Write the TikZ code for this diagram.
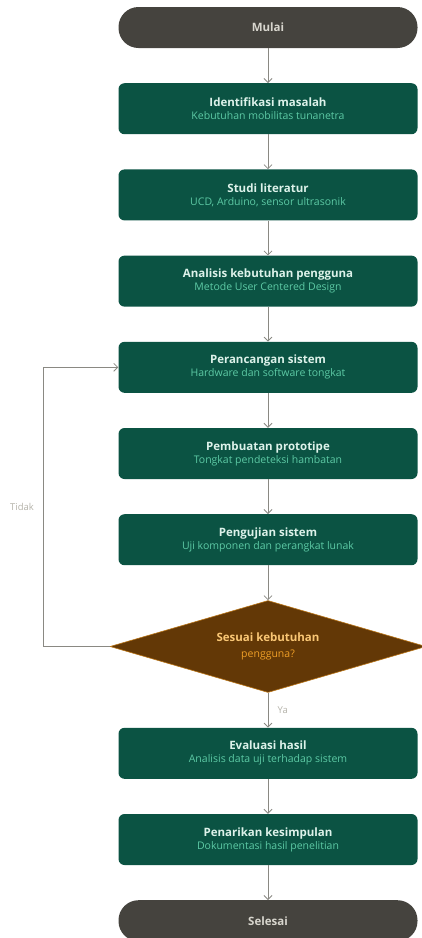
\documentclass[tikz,border=0pt]{standalone}
\usepackage{fontspec}
\setmainfont{Open Sans}
\usetikzlibrary{positioning, shapes.geometric, arrows.meta}

\definecolor{termfill}{HTML}{45433E}
\definecolor{termtext}{HTML}{D8D6CE}
\definecolor{procfill}{HTML}{0B5343}
\definecolor{proctext}{HTML}{DDF2EA}
\definecolor{subtext}{HTML}{5DCAA5}
\definecolor{decfill}{HTML}{633806}
\definecolor{decline}{HTML}{BA7517}
\definecolor{dectext}{HTML}{FAC775}
\definecolor{decsub}{HTML}{EF9F27}
\definecolor{linegray}{HTML}{8A8983}
\definecolor{lblgray}{HTML}{B4B2A9}

\begin{document}
\begin{tikzpicture}[
    x=1pt, y=1pt,
    node distance=34.8pt,
    >={Straight Barb[length=4pt, width=8pt]},
    terminal/.style={rectangle, rounded corners=20pt, fill=termfill, minimum width=299pt, minimum height=41pt, inner sep=0pt, text=termtext, font=\bfseries\fontsize{11.5}{13}\selectfont},
    process/.style={rectangle, rounded corners=6pt, fill=procfill, minimum width=299pt, minimum height=51pt, inner sep=0pt, align=center, text=proctext, font=\fontsize{11.5}{13}\selectfont},
    decision/.style={diamond, aspect=3.4, fill=decfill, draw=decline, line width=0.6pt, minimum width=316pt, minimum height=92pt, inner sep=0pt, align=center, text=dectext, font=\fontsize{11.5}{13}\selectfont},
    arrow/.style={->, draw=linegray, line width=0.8pt},
    lbl/.style={text=lblgray, font=\fontsize{9.5}{11}\selectfont}
]
\useasboundingbox (0,0) rectangle (422,-938);
\clip (0,0) rectangle (422,-938);

\node[terminal] (start) at (268,-27.5) {Mulai};
\node[process, below=of start] (ident) {\textbf{Identifikasi masalah}\\[0pt]{\color{subtext}\fontsize{10.5}{12}\selectfont Kebutuhan mobilitas tunanetra}};
\node[process, below=of ident] (study) {\textbf{Studi literatur}\\[0pt]{\color{subtext}\fontsize{10.5}{12}\selectfont UCD, Arduino, sensor ultrasonik}};
\node[process, below=of study] (needs) {\textbf{Analisis kebutuhan pengguna}\\[0pt]{\color{subtext}\fontsize{10.5}{12}\selectfont Metode User Centered Design}};
\node[process, below=of needs] (design) {\textbf{Perancangan sistem}\\[0pt]{\color{subtext}\fontsize{10.5}{12}\selectfont Hardware dan software tongkat}};
\node[process, below=of design] (proto) {\textbf{Pembuatan prototipe}\\[0pt]{\color{subtext}\fontsize{10.5}{12}\selectfont Tongkat pendeteksi hambatan}};
\node[process, below=of proto] (test) {\textbf{Pengujian sistem}\\[0pt]{\color{subtext}\fontsize{10.5}{12}\selectfont Uji komponen dan perangkat lunak}};
\node[decision, below=of test] (check) {\textbf{Sesuai kebutuhan}\\[3pt]{\color{decsub}\fontsize{10.5}{12}\selectfont pengguna?}};
\node[process, below=of check] (eval) {\textbf{Evaluasi hasil}\\[0pt]{\color{subtext}\fontsize{10.5}{12}\selectfont Analisis data uji terhadap sistem}};
\node[process, below=of eval] (concl) {\textbf{Penarikan kesimpulan}\\[0pt]{\color{subtext}\fontsize{10.5}{12}\selectfont Dokumentasi hasil penelitian}};
\node[terminal, below=of concl] (end) {Selesai};

\draw[arrow] (start) -- (ident);
\draw[arrow] (ident) -- (study);
\draw[arrow] (study) -- (needs);
\draw[arrow] (needs) -- (design);
\draw[arrow] (design) -- (proto);
\draw[arrow] (proto) -- (test);
\draw[arrow] (test) -- (check);
\draw[arrow] (check) -- node[lbl, right=6pt] {Ya} (eval);
\draw[arrow] (check.west) -- ++(-66,0) |- node[lbl, left=6pt, pos=0.25] {Tidak} (design.west);
\draw[arrow] (eval) -- (concl);
\draw[arrow] (concl) -- (end);

\end{tikzpicture}
\end{document}
